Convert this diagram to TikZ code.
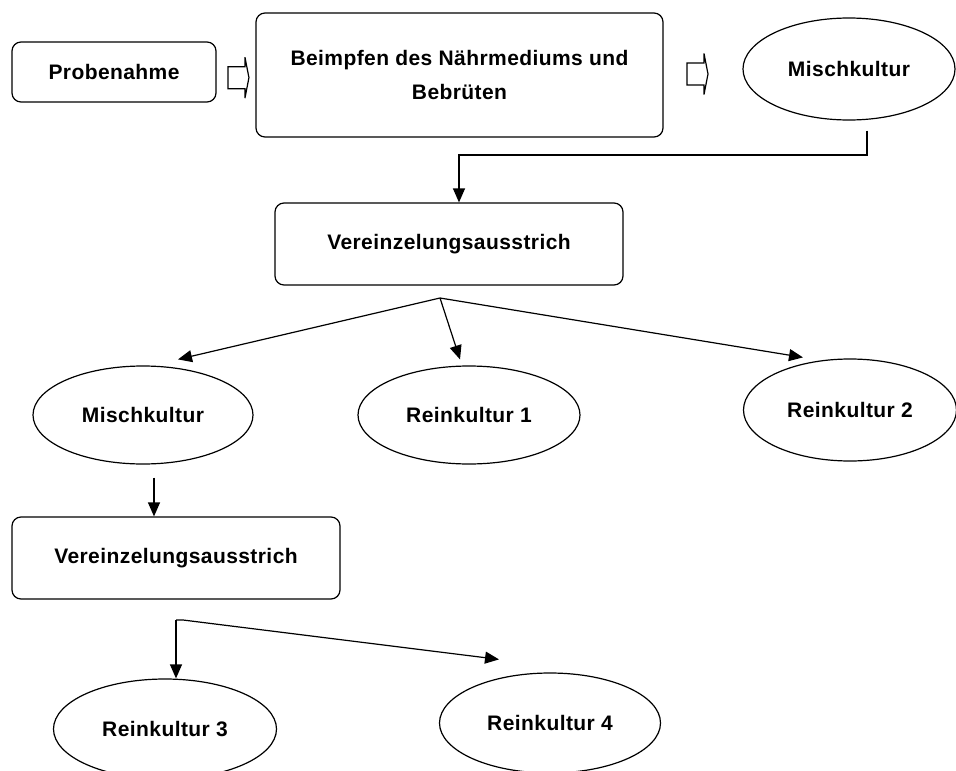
\documentclass[tikz,border=0pt]{standalone}
\usepackage{fontspec}
\setmainfont{Liberation Sans}[LetterSpace=2]
\usetikzlibrary{shapes.geometric,arrows.meta,calc}
\tikzset{
  every node/.style={font=\fontsize{21pt}{34pt}\selectfont\bfseries, align=center, inner sep=0pt},
  stepbox/.style={draw, line width=1.2pt, rounded corners=9pt, rectangle},
  culture/.style={draw, line width=1.2pt, ellipse},
  arr/.style={line width=1.2pt, -{Triangle[length=14pt,width=12pt]}},
  hollow/.pic={\draw[line width=1.2pt] (-10,-11) -- (7,-11) -- (7,-20.5) -- (11,0) -- (7,20.5) -- (7,11) -- (-10,11) -- cycle;}
}
\begin{document}
\begin{tikzpicture}[x=1pt,y=-1pt]
\useasboundingbox (0,0) rectangle (956,771);
\clip (0,0) rectangle (956,771);
\node[stepbox, minimum width=204pt, minimum height=60pt] (prob) at (114,72) {Probenahme};
\node[stepbox, minimum width=407pt, minimum height=124pt] (beimpf) at (459.5,75) {Beimpfen des Nährmediums und\\Bebrüten};
\node[culture, minimum width=212pt, minimum height=102pt] (misch1) at (849,69) {Mischkultur};
\node[stepbox, minimum width=348pt, minimum height=82pt] (vz1) at (449,244) {Vereinzelungsausstrich};
\node[culture, minimum width=220pt, minimum height=98pt] (misch2) at (143,415) {Mischkultur};
\node[culture, minimum width=222pt, minimum height=98pt] (rein1) at (469,415) {Reinkultur 1};
\node[culture, minimum width=213pt, minimum height=102pt] (rein2) at (850,410) {Reinkultur 2};
\node[stepbox, minimum width=328pt, minimum height=82pt] (vz2) at (176,558) {Vereinzelungsausstrich};
\node[culture, minimum width=223pt, minimum height=100pt] (rein3) at (165,729) {Reinkultur 3};
\node[culture, minimum width=221pt, minimum height=100pt] (rein4) at (550,723) {Reinkultur 4};
% hollow arrows
\pic at ($(prob.east)!0.55!(beimpf.west)+(0,4)$) {hollow};
\pic at (697,74) {hollow};
% Mischkultur -> Vereinzelungsausstrich
\coordinate (s1) at ($(misch1.south)+(18,10)$);
\coordinate (j1) at (459,155);
\draw[arr] (s1) |- (j1) -- (j1 |- vz1.north);
% branch 1
\coordinate (b1) at (440,298);
\draw[arr] (b1) -- ($(misch2.north)+(35,-6)$);
\draw[arr] (b1) -- ($(rein1.north)+(-9,-6)$);
\draw[arr] (b1) -- ($(rein2.north)+(-47,-1)$);
% Mischkultur 2 -> Vereinzelungsausstrich 2
\coordinate (s2) at ($(misch2.south)+(11,13)$);
\draw[arr] (s2) -- (s2 |- vz2.north);
% branch 2
\coordinate (b2) at (176,620);
\draw[arr] (b2) -- (b2 |- rein3.north);
\draw[arr] (b2) -- (183,620) -- ($(rein4.north)+(-51,-13)$);
\end{tikzpicture}
\end{document}
